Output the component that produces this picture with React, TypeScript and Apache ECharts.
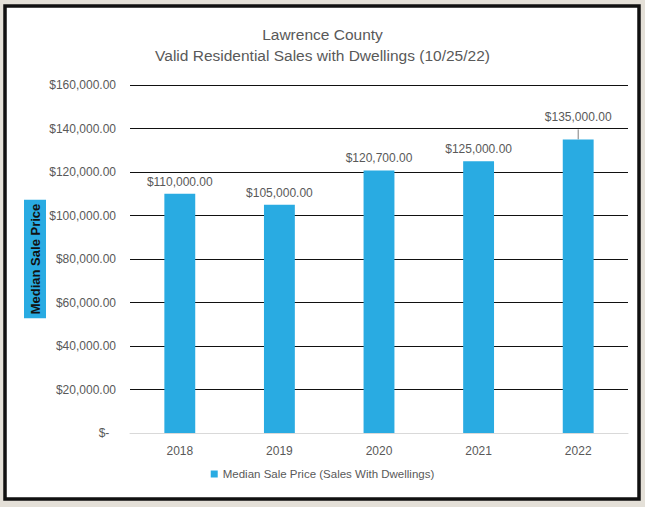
import React, { useEffect, useRef } from "react";
import * as echarts from "echarts";

const years = ["2018", "2019", "2020", "2021", "2022"];
const medianPrices = [110000, 105000, 120700, 125000, 135000];
const yTicks = { min: 0, max: 160000, interval: 20000 };
const titleLines = ["Lawrence County", "Valid Residential Sales with Dwellings (10/25/22)"];
const seriesName = "Median Sale Price (Sales With Dwellings)";
const yAxisTitle = "Median Sale Price";

const FONT = "'Liberation Sans', Arial, sans-serif";

function money(v: number): string {
  if (v === 0) return "$-  ";
  return "$" + v.toLocaleString("en-US", { minimumFractionDigits: 2, maximumFractionDigits: 2 });
}

export default function App() {
  const ref = useRef<HTMLDivElement>(null);
  useEffect(() => {
    document.body.style.margin = "0";
    const chart = echarts.init(ref.current!, undefined, { renderer: "svg" });
    chart.setOption({
      animation: false,
      backgroundColor: "#e4e0d8",
      graphic: [
        {
          type: "rect",
          z: -10,
          shape: { x: 5, y: 6, width: 634, height: 493 },
          style: { fill: "#ffffff", stroke: "#111111", lineWidth: 3.5 },
          silent: true,
        },
      ],
      title: {
        text: titleLines.join("\n"),
        left: "center",
        top: 19,
        textStyle: { fontFamily: FONT, fontSize: 15.5, fontWeight: "normal", color: "#595959", lineHeight: 21 },
      },
      legend: {
        bottom: 22,
        left: "center",
        icon: "rect",
        itemWidth: 7,
        itemHeight: 7,
        itemGap: 4,
        textStyle: { fontFamily: FONT, fontSize: 11.5, color: "#595959" },
        data: [seriesName],
      },
      grid: { left: 130, right: 17, top: 85, bottom: 74, containLabel: false },
      xAxis: {
        type: "category",
        data: years,
        axisTick: { show: false },
        axisLine: { lineStyle: { color: "#d9d9d9", width: 1 } },
        axisLabel: { fontFamily: FONT, fontSize: 12, color: "#595959", margin: 12 },
      },
      yAxis: {
        type: "value",
        min: yTicks.min,
        max: yTicks.max,
        interval: yTicks.interval,
        name: yAxisTitle,
        nameLocation: "middle",
        nameRotate: 90,
        nameGap: 84,
        nameMoveOverlap: false,
        nameTextStyle: {
          fontFamily: FONT,
          fontSize: 13,
          fontWeight: "bold",
          color: "#111111",
          backgroundColor: "#29abe2",
          padding: [5, 4, 4, 4],
        },
        axisLine: { show: false },
        axisTick: { show: false },
        splitLine: { lineStyle: { color: "#111111", width: 1.2 } },
        axisLabel: {
          fontFamily: FONT,
          fontSize: 12,
          color: "#595959",
          margin: 14,
          formatter: (v: number) => money(v),
        },
      },
      series: [
        {
          name: seriesName,
          type: "bar",
          barWidth: "31%",
          itemStyle: { color: "#29abe2" },
          label: {
            show: true,
            position: "top",
            distance: 6,
            fontFamily: FONT,
            fontSize: 12,
            color: "#595959",
            formatter: (p: any) => money(p.value),
          },
          labelLine: { show: true, lineStyle: { color: "#7f7f7f", width: 1 } },
          data: medianPrices.map((v, i) =>
            i === medianPrices.length - 1
              ? { value: v, label: { distance: 16 } }
              : { value: v }
          ),
        },
      ],
    });
    return () => chart.dispose();
  }, []);
  return <div ref={ref} style={{ width: 645, height: 507 }} />;
}
